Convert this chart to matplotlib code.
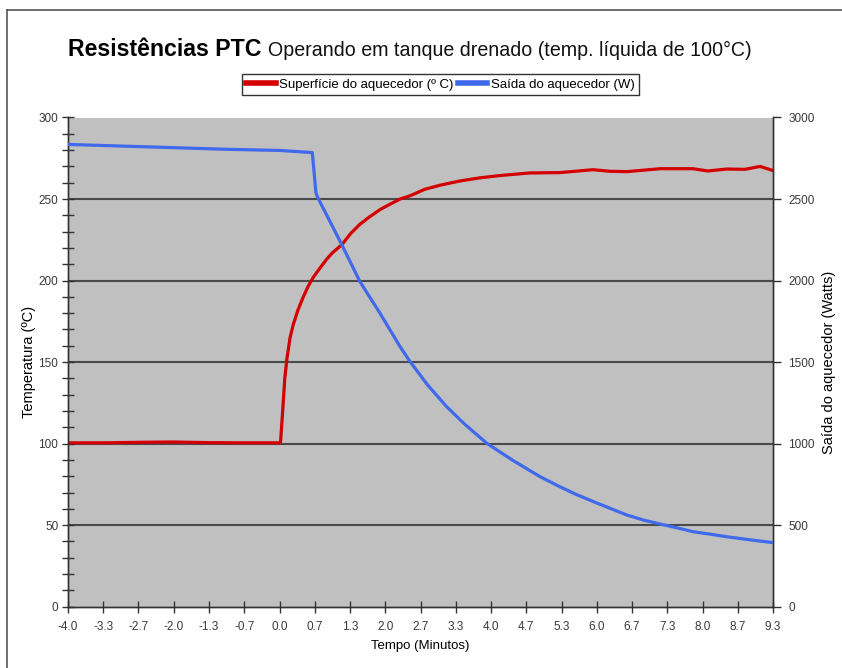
import matplotlib
matplotlib.use("Agg")
import matplotlib.pyplot as plt
from matplotlib.lines import Line2D
from matplotlib.ticker import MultipleLocator, FixedLocator, FuncFormatter

# Heater surface temperature (°C) versus time (minutes)
temp_time = [-4.0, -3.3, -2.7, -2.0, -1.3, -0.7, 0.0, 0.02, 0.07, 0.1, 0.14, 0.2,
             0.26, 0.35, 0.45, 0.55, 0.64, 0.75, 0.89, 1.0, 1.18, 1.35, 1.52, 1.7,
             1.9, 2.1, 2.28, 2.47, 2.75, 3.04, 3.4, 3.79, 4.2, 4.74, 5.3, 5.93,
             6.25, 6.57, 7.2, 7.82, 8.1, 8.46, 8.8, 9.09, 9.33]
temp_c = [100.5, 100.5, 100.8, 101.0, 100.6, 100.5, 100.5, 101.0, 125, 140, 152, 165,
          173, 182, 190, 197, 202, 207, 213, 217, 222, 229, 234.5, 239,
          243.5, 247, 250, 252, 256, 258.5, 261, 263, 264.5, 266, 266.2, 268,
          267, 266.8, 268.6, 268.6, 267.2, 268.4, 268.2, 270, 267.5]

# Heater output (W) versus time (minutes)
power_time = [-4.0, -3.0, -2.0, -1.0, 0.0, 0.62, 0.69, 0.73, 1.18, 1.52, 1.9, 2.28,
              2.47, 2.8, 3.16, 3.5, 3.92, 4.4, 4.93, 5.3, 5.6, 5.94, 6.57, 6.9,
              7.2, 7.5, 7.82, 8.1, 8.46, 8.9, 9.33]
power_w = [2835, 2825, 2815, 2805, 2798, 2785, 2536, 2505, 2219, 1994, 1800, 1595,
           1503, 1360, 1227, 1120, 1002, 900, 797, 736, 690, 644, 562, 530,
           507, 485, 460, 447, 429, 410, 393]

x_tick_labels = ["-4.0", "-3.3", "-2.7", "-2.0", "-1.3", "-0.7", "0.0", "0.7", "1.3",
                 "2.0", "2.7", "3.3", "4.0", "4.7", "5.3", "6.0", "6.7", "7.3", "8.0",
                 "8.7", "9.3"]

RED = "#d40000"
BLUE = "#4169ec"
BG = "#c0c0c0"
GRID = "#4a4a4a"
TICKC = "#3a3a3a"
SANS = ["Liberation Sans", "DejaVu Sans"]

W, H = 842, 668
fig = plt.figure(figsize=(W / 100, H / 100), dpi=100)
fig.patch.set_facecolor("white")

L, R, T, B = 68, 773, 117.5, 606.7
ax = fig.add_axes([L / W, 1 - B / H, (R - L) / W, (B - T) / H])
ax.set_facecolor(BG)

x_min = -4.0
x_max = -4.0 + 20 * (2 / 3)
ax.set_xlim(x_min, x_max)
ax.set_ylim(0, 300)

for v in (50, 100, 150, 200, 250):
    ax.axhline(v, color=GRID, lw=1.5, zorder=1)

ax.plot(temp_time, temp_c, color=RED, lw=2.3, zorder=4, solid_joinstyle="round")

ax2 = ax.twinx()
ax2.set_ylim(0, 3000)
ax2.plot(power_time, power_w, color=BLUE, lw=2.3, zorder=4, solid_joinstyle="round")

# spines
for a in (ax, ax2):
    a.spines["top"].set_visible(False)
    for s in ("left", "bottom", "right"):
        a.spines[s].set_color("#333333")
        a.spines[s].set_linewidth(1.0)

# x ticks
xt = [x_min + k * (2 / 3) for k in range(21)]
ax.xaxis.set_major_locator(FixedLocator(xt))
ax.set_xticklabels(x_tick_labels, family=SANS, fontsize=8.5, color=TICKC)
ax.tick_params(axis="x", direction="inout", length=8, width=1.0, color="#333333", pad=6)

# left y ticks
ax.yaxis.set_major_locator(MultipleLocator(50))
ax.yaxis.set_minor_locator(MultipleLocator(10))
ax.yaxis.set_major_formatter(FuncFormatter(lambda v, p: f"{int(v)}"))
ax.tick_params(axis="y", which="both", direction="inout", length=8, width=1.0,
               color="#333333", labelsize=8.5, labelcolor=TICKC, pad=3)
for lab in ax.get_yticklabels():
    lab.set_family(SANS)

# right y ticks
ax2.yaxis.set_major_locator(MultipleLocator(500))
ax2.yaxis.set_major_formatter(FuncFormatter(lambda v, p: f"{int(v)}"))
ax2.tick_params(axis="y", direction="out", length=6, width=1.0, color="#333333",
                labelsize=8.5, labelcolor=TICKC, pad=5)
for lab in ax2.get_yticklabels():
    lab.set_family(SANS)

ax.set_xlabel("Tempo (Minutos)", family=SANS, fontsize=9.5, color="black", labelpad=5)
ax.set_ylabel("Temperatura (ºC)", family=SANS, fontsize=10.5, color="black", labelpad=1.5)
ax2.set_ylabel("Saída do aquecedor (Watts)", family=SANS, fontsize=10.5, color="black",
               labelpad=5)

# legend
handles = [Line2D([], [], color=RED, lw=4), Line2D([], [], color=BLUE, lw=4)]
leg = fig.legend(handles, ["Superfície do aquecedor (º C)", "Saída do aquecedor (W)"],
                 loc="center", bbox_to_anchor=(440.5 / W, 1 - 84.5 / H), ncol=2,
                 prop={"family": SANS, "size": 9.5}, frameon=True, fancybox=False,
                 edgecolor="black", handlelength=2.2, handletextpad=0.3,
                 columnspacing=0.3, borderpad=0.35, borderaxespad=0)
leg.get_frame().set_linewidth(1.0)

# title in two styles, sized to its span
fig.canvas.draw()
renderer = fig.canvas.get_renderer()


def fit_text(x_px, y_px, s, target_w, **kw):
    t = fig.text(x_px / W, 1 - y_px / H, s, ha="left", va="baseline", **kw)
    w = t.get_window_extent(renderer).width
    t.set_fontsize(t.get_fontsize() * target_w / w)
    return t


t1 = fit_text(68, 56, "Resistências PTC", 194, family=SANS, weight="bold",
              fontsize=18, color="black")
x_end = t1.get_window_extent(renderer).x1
fit_text(x_end + 6, 56, "Operando em tanque drenado (temp. líquida de 100°C)",
         750 - x_end - 6, family=SANS, fontsize=16, color="#111111")

# page border lines
fig.add_artist(Line2D([7 / W, 7 / W], [0, 1 - 10 / H], transform=fig.transFigure,
                      color="#555555", lw=1.2))
fig.add_artist(Line2D([7 / W, 1], [1 - 10 / H, 1 - 10 / H], transform=fig.transFigure,
                      color="#555555", lw=1.2))

fig.savefig("out.png", dpi=100)
